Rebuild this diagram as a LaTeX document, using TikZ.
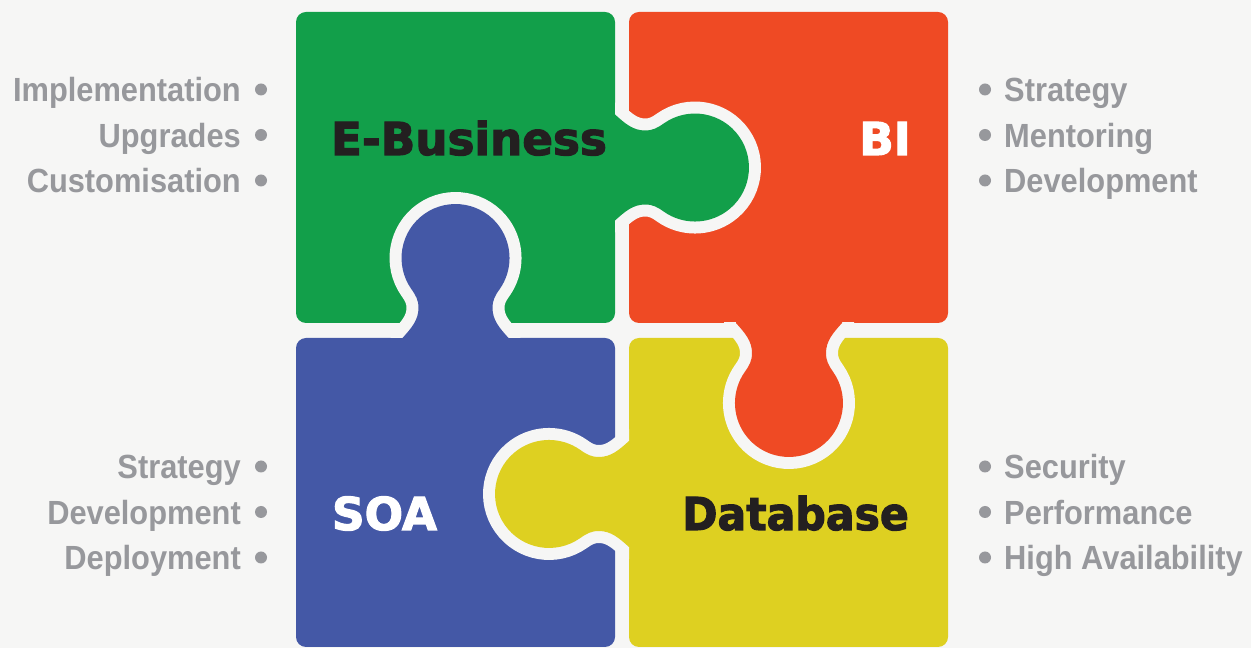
\documentclass[tikz,border=0pt]{standalone}
\usepackage{fontspec}
\newfontfamily\heavyfont[FakeBold=2.5]{DejaVu Sans}
\newfontfamily\sidefont[FakeStretch=0.92]{Liberation Sans}
\definecolor{bgc}{RGB}{246,246,245}
\definecolor{pgreen}{RGB}{18,159,74}
\definecolor{pred}{RGB}{239,74,36}
\definecolor{pblue}{RGB}{68,88,166}
\definecolor{pyellow}{RGB}{222,208,33}
\definecolor{ink}{RGB}{35,31,32}
\definecolor{sidegray}{RGB}{151,152,156}
\newcommand\puzzletab[3]{%
  \begin{scope}[shift={#1},rotate=#2]
    \begin{scope}
      \clip (0,-95) rectangle (160,95);
      \draw[bgc, line width=24pt, line join=round]
        (-3,53) -- (0,53) .. controls (10,44) and (18,37) .. (30,37)
        .. controls (38,37) and (42.4,39.6) .. (49,44.2)
        arc[start angle=125, end angle=-125, radius=54]
        .. controls (42.4,-39.6) and (38,-37) .. (30,-37)
        .. controls (18,-37) and (10,-44) .. (0,-53) -- (-3,-53) -- cycle;
    \end{scope}
    \fill[#3]
        (-3,53) -- (0,53) .. controls (10,44) and (18,37) .. (30,37)
        .. controls (38,37) and (42.4,39.6) .. (49,44.2)
        arc[start angle=125, end angle=-125, radius=54]
        .. controls (42.4,-39.6) and (38,-37) .. (30,-37)
        .. controls (18,-37) and (10,-44) .. (0,-53) -- (-3,-53) -- cycle;
  \end{scope}}
\tikzset{
  piece/.style={rounded corners=10pt},
  bigword/.style={inner sep=0pt, font=\heavyfont\bfseries\fontsize{45.3}{50}\selectfont},
  sideword/.style={inner sep=0pt, text=sidegray, font=\sidefont\bfseries\fontsize{33.5}{40}\selectfont},
  dot/.style={fill=sidegray}
}
\begin{document}
\begin{tikzpicture}[x=1pt,y=1pt]
\useasboundingbox (0,0) rectangle (1251,648);
\fill[bgc] (0,0) rectangle (1251,648);
% pieces
\fill[pgreen, piece] (296,325) rectangle (615,636);
\fill[pred, piece] (629,325) rectangle (948,636);
\fill[pblue, piece] (296,1) rectangle (615,310);
\fill[pyellow, piece] (629,1) rectangle (948,310);
% tabs
\puzzletab{(615,480.5)}{0}{pgreen}
\puzzletab{(455.5,310)}{90}{pblue}
\puzzletab{(789,325)}{-90}{pred}
\puzzletab{(629,154)}{180}{pyellow}
% piece labels
\node[bigword, text=ink, anchor=base] (eb) at (469,493) {E-Business};
\node[bigword, text=white, anchor=base] (bi) at (885,493) {BI};
\node[bigword, text=white, anchor=base] (soa) at (384.5,118) {SOA};
\node[bigword, text=ink, anchor=base] (db) at (795.5,118) {\scalebox{0.94}[1]{Database}};
% left lists
\node[sideword, anchor=base east] (l1) at (241,546) {Implementation};
\node[sideword, anchor=base east] (l2) at (241,500.5) {Upgrades};
\node[sideword, anchor=base east] (l3) at (241,455) {Customisation};
\node[sideword, anchor=base east] (l4) at (241,169) {Strategy};
\node[sideword, anchor=base east] (l5) at (241,123.5) {Development};
\node[sideword, anchor=base east] (l6) at (241,78) {Deployment};
\foreach \y in {546,500.5,455,169,123.5,78} \fill[dot] (261,\y+12.5) circle (6);
% right lists
\node[sideword, anchor=base west] (r1) at (1004,546) {Strategy};
\node[sideword, anchor=base west] (r2) at (1004,500.5) {Mentoring};
\node[sideword, anchor=base west] (r3) at (1004,455) {Development};
\node[sideword, anchor=base west] (r4) at (1004,169) {Security};
\node[sideword, anchor=base west] (r5) at (1004,123.5) {Performance};
\node[sideword, anchor=base west] (r6) at (1004,78) {High Availability};
\foreach \y in {546,500.5,455,169,123.5,78} \fill[dot] (985,\y+12.5) circle (6);
\end{tikzpicture}
\end{document}
